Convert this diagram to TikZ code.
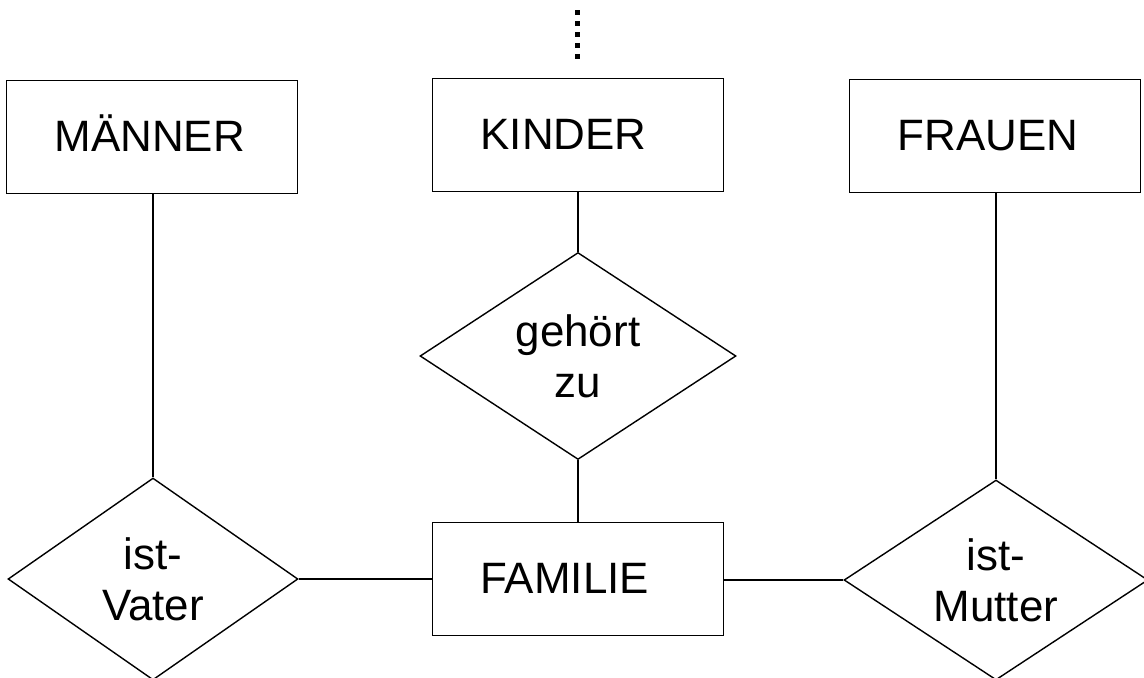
\documentclass[tikz,border=0pt]{standalone}
\usepackage{fontspec}
\setsansfont{Liberation Sans}
\usepackage{tikz}
\usetikzlibrary{shapes.geometric,positioning}
\tikzset{
  entity/.style={draw, line width=0.8pt, text width=3.9cm, inner xsep=0.96cm, inner ysep=0pt, align=left, text height=18pt, text depth=2pt, minimum height=2.26cm, font=\fontsize{25}{29}\selectfont\sffamily},
  rel/.style={diamond, aspect=1.5, draw, line width=0.8pt, inner sep=0pt, align=center, font=\fontsize{25}{29}\selectfont\sffamily},
  link/.style={line width=0.8pt},
  more/.style={line width=0.1cm, dash pattern=on 0.1cm off 0.12cm},
}
\begin{document}
\begin{tikzpicture}[x=0.02cm,y=-0.02cm]
  \useasboundingbox (0,0) rectangle (1144,677);
  \clip (0,0) rectangle (1144,677);
  % entities
  \node[entity] (maenner) at (152,137) {MÄNNER};
  \node[entity] (kinder) at (578,135) {KINDER};
  \node[entity] (frauen) at (995,136) {FRAUEN};
  \node[entity] (familie) at (578,579) {FAMILIE};
  % relationships
  \node[rel, minimum width=6.32cm, minimum height=4.14cm] (gehoert) at (578,356) {gehört\\zu};
  \node[rel, minimum width=5.8cm, minimum height=4.04cm] (vater) at (153,579) {ist-\\Vater};
  \node[rel, minimum width=6.08cm, minimum height=4.0cm] (mutter) at (996,580) {ist-\\Mutter};
  % connections
  \draw[link] (kinder) -- (gehoert);
  \draw[link] (gehoert) -- (familie);
  \draw[link] (maenner.south -| vater.north) -- (vater.north);
  \draw[link] (frauen.south -| mutter.north) -- (mutter.north);
  \draw[link] (vater.east) -- (familie.west |- vater.east);
  \draw[link] (familie.east |- mutter.west) -- (mutter.west);
  % further relationships of KINDER
  \coordinate (up1) at (577,10);
  \coordinate (up2) at (577,59);
  \draw[more] (up1) -- (up2);
\end{tikzpicture}
\end{document}
